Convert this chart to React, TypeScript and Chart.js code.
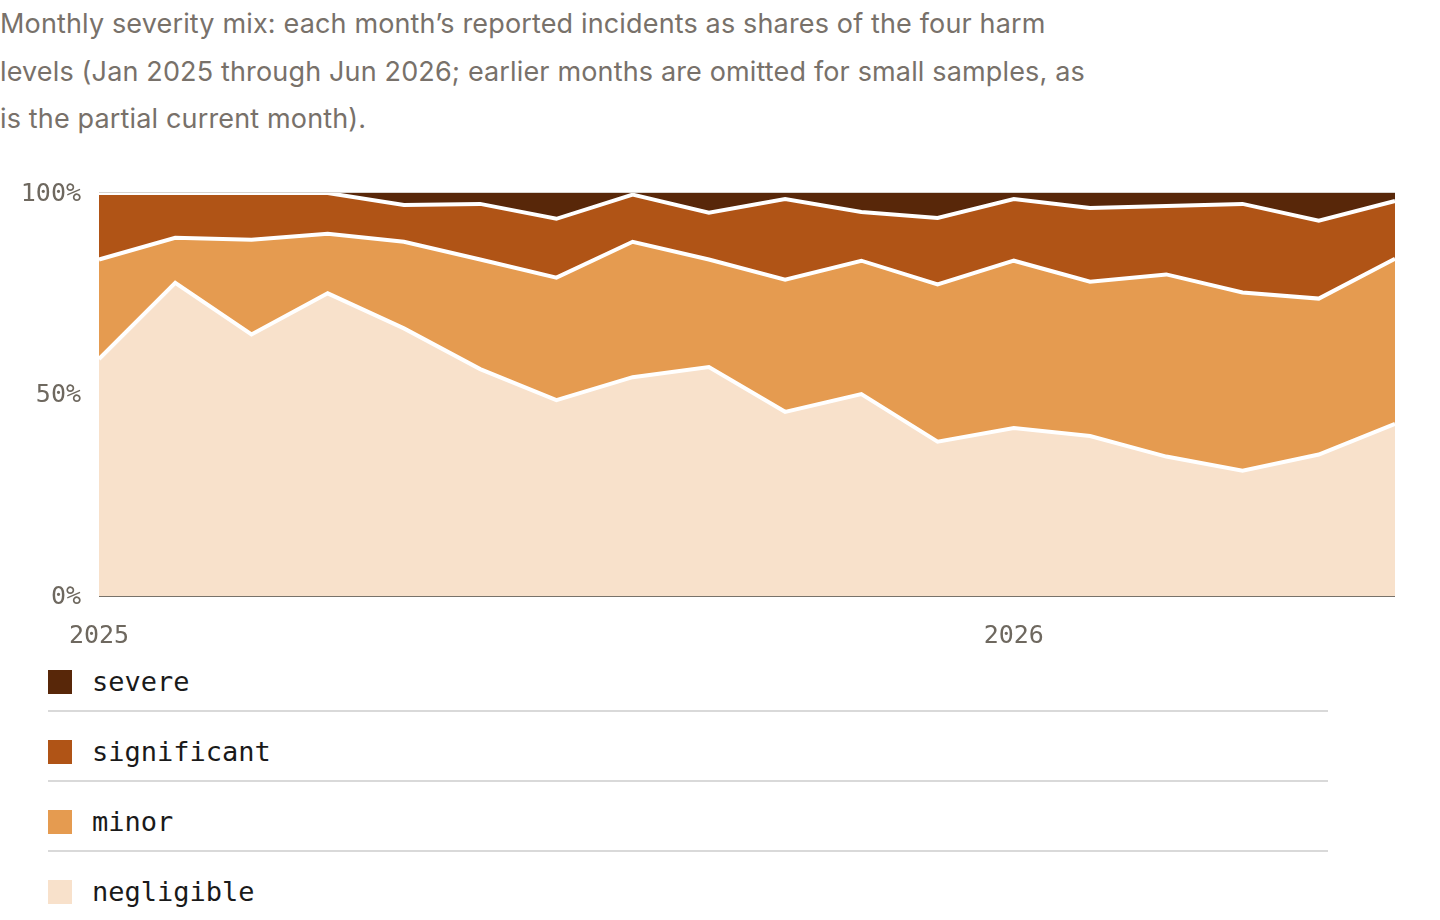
import React, { useEffect, useRef } from "react";
import { Chart, registerables } from "chart.js";

Chart.register(...registerables);

const months = [
  "2025-01", "2025-02", "2025-03", "2025-04", "2025-05", "2025-06",
  "2025-07", "2025-08", "2025-09", "2025-10", "2025-11", "2025-12",
  "2026-01", "2026-02", "2026-03", "2026-04", "2026-05", "2026-06",
];

const negligible = [58.8, 77.7, 64.9, 75.1, 66.4, 56.3, 48.6, 54.3, 56.8, 45.7, 50.1, 38.3, 41.7, 39.7, 34.6, 31.1, 35.1, 42.7];
const minor = [24.7, 11.2, 23.5, 14.8, 21.5, 27.2, 30.4, 33.6, 26.7, 32.8, 33.1, 39.0, 41.5, 38.3, 45.2, 44.2, 38.7, 41.0];
const significant = [16.5, 11.1, 11.6, 10.1, 9.1, 13.8, 14.6, 11.7, 11.6, 20.0, 12.1, 16.5, 15.3, 18.3, 17.0, 22.0, 19.3, 14.3];
const severe = [0, 0, 0, 0, 3.0, 2.7, 6.4, 0.4, 4.9, 1.5, 4.7, 6.2, 1.5, 3.7, 3.2, 2.7, 6.9, 2.0];

const yTicks = [0, 50, 100];

const seriesNames = ["negligible", "minor", "significant", "severe"];
const seriesColors = ["#f8e1cb", "#e59b50", "#b05416", "#582709"];
const seriesValues = [negligible, minor, significant, severe];

const MONO = "'DejaVu Sans Mono', monospace";
const TICK_COLOR = "#6e685f";

export default function App() {
  const canvasRef = useRef<HTMLCanvasElement | null>(null);

  useEffect(() => {
    document.body.style.margin = "0";
    const canvas = canvasRef.current;
    if (!canvas) return;
    const chart = new Chart(canvas, {
      type: "line",
      data: {
        labels: months,
        datasets: seriesNames.map((name, i) => ({
          label: name,
          data: seriesValues[i],
          backgroundColor: seriesColors[i],
          borderColor: "#ffffff",
          borderWidth: i === 3 ? 0 : 4,
          pointRadius: 0,
          pointHoverRadius: 0,
          tension: 0,
          fill: i === 0 ? "origin" : "-1",
        })),
      },
      options: {
        responsive: true,
        maintainAspectRatio: false,
        animation: false,
        layout: { padding: { top: 31, right: 45, left: 0, bottom: 0 } },
        plugins: {
          legend: { display: false },
          tooltip: { enabled: false },
        },
        scales: {
          x: {
            type: "category",
            grid: { display: false },
            border: { display: false },
            ticks: {
              autoSkip: false,
              maxRotation: 0,
              minRotation: 0,
              padding: 17,
              color: TICK_COLOR,
              font: { family: MONO, size: 25 },
              callback: function (_v: any, idx: number) {
                const m = months[idx];
                return m.endsWith("-01") ? m.slice(0, 4) : "";
              },
            },
            afterFit: (scale: any) => {
              scale.height = 64;
            },
          },
          y: {
            stacked: true,
            min: 0,
            max: 100,
            z: 1,
            border: { display: false },
            grid: {
              drawTicks: false,
              color: (ctx: any) => (ctx.tick && ctx.tick.value === 0 ? "#78726a" : "rgba(100,80,60,0.25)"),
              lineWidth: (ctx: any) => (ctx.tick && ctx.tick.value === 0 ? 2 : 1.5),
            },
            afterBuildTicks: (scale: any) => {
              scale.ticks = yTicks.map((v) => ({ value: v }));
            },
            ticks: {
              padding: 18,
              labelOffset: 1,
              color: TICK_COLOR,
              font: { family: MONO, size: 25 },
              callback: (v: any) => v + "%",
            },
            afterFit: (scale: any) => {
              scale.width = 99;
            },
          },
        },
      },
    });
    return () => chart.destroy();
  }, []);

  const legendOrder = [3, 2, 1, 0];

  return (
    <div style={{ width: 1440, position: "relative" }}>
      <div
        style={{
          width: 1100,
          fontFamily: "Inter, 'Noto Sans', sans-serif",
          fontSize: 27,
          letterSpacing: "0.15px",
          lineHeight: "47.5px",
          color: "#78716a",
          margin: 0,
        }}
      >
        Monthly severity mix: each month’s reported incidents as shares of the four harm levels (Jan 2025 through Jun
        2026; earlier months are omitted for small samples, as is the partial current month).
      </div>
      <div style={{ position: "relative", width: 1440, height: 500, marginTop: 17.5 }}>
        <canvas ref={canvasRef} />
      </div>
      <div style={{ marginLeft: 48, width: 1280 }}>
        {legendOrder.map((si, k) => (
          <div
            key={seriesNames[si]}
            style={{
              display: "flex",
              alignItems: "center",
              paddingTop: k === 0 ? 10 : 28,
              paddingBottom: 16,
              borderBottom: k < 3 ? "2px solid #d9d9d9" : "none",
            }}
          >
            <span style={{ display: "inline-block", width: 24, height: 24, background: seriesColors[si] }} />
            <span
              style={{
                marginLeft: 20,
                fontFamily: MONO,
                fontSize: 27,
                lineHeight: "24px",
                color: "#1a1a1a",
              }}
            >
              {seriesNames[si]}
            </span>
          </div>
        ))}
      </div>
    </div>
  );
}
